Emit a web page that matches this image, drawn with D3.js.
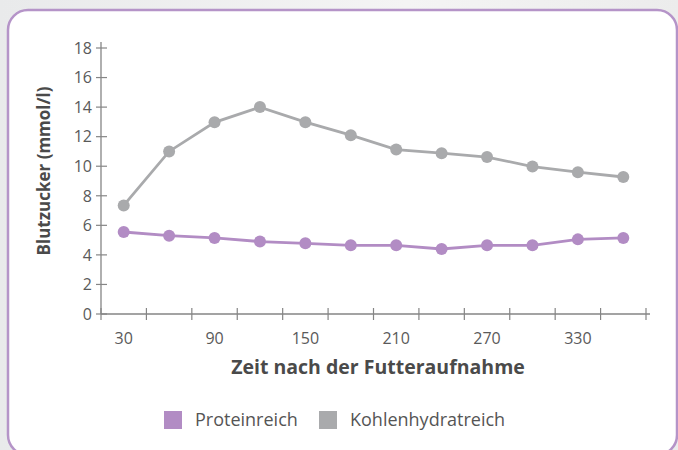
<!DOCTYPE html>
<html>
<head>
<meta charset="utf-8">
<script src="https://cdn.jsdelivr.net/npm/d3@7"></script>
<style>
  body { margin: 0; background: linear-gradient(90deg, #e9eaeb, #f4f4f4 60%, #ececec); }
  svg { display: block; }
</style>
</head>
<body>
<div id="chart"></div>
<script>
// data
var minutes = [30, 60, 90, 120, 150, 180, 210, 240, 270, 300, 330, 360];
var protein = [5.55, 5.3, 5.15, 4.9, 4.78, 4.65, 4.65, 4.4, 4.65, 4.65, 5.05, 5.15];
var carbs = [7.35, 11.0, 12.97, 14.0, 12.98, 12.1, 11.13, 10.88, 10.62, 9.98, 9.6, 9.27];
var yTicks = [0, 2, 4, 6, 8, 10, 12, 14, 16, 18];
var seriesNames = ["Proteinreich", "Kohlenhydratreich"];
var colors = ["#b28cc4", "#a9aaac"];

var W = 678, H = 450;
var svg = d3.select("#chart").append("svg")
	.attr("width", W)
	.attr("height", H);

// the card
svg.append("rect")
	.attr("x", 8).attr("y", 10)
	.attr("width", 669).attr("height", 445)
	.attr("rx", 20).attr("ry", 20)
	.attr("fill", "#fff")
	.attr("stroke", "#b594c8")
	.attr("stroke-width", 2.5);

var pLeft = 101, pRight = 646, pTop = 48, pBottom = 314;
var font = "'Open Sans', 'Noto Sans', sans-serif";

var x = d3.scaleBand().domain(minutes).range([pLeft, pRight]);
var y = d3.scaleLinear().domain([0, 18]).range([pBottom, pTop]);

var axisCol = "#858585";

// y axis
var gy = svg.append("g").attr("transform", "translate(" + pLeft + ",0)");
gy.append("line").attr("y1", y(0)).attr("y2", y(18) - 6).attr("stroke", axisCol).attr("stroke-width", 1.3);
gy.selectAll(".yt").data(yTicks).enter().append("line")
	.attr("x1", -5).attr("x2", 6)
	.attr("y1", function(d) { return y(d); })
	.attr("y2", function(d) { return y(d); })
	.attr("stroke", axisCol).attr("stroke-width", 1.2);
gy.selectAll(".yl").data(yTicks).enter().append("text")
	.attr("x", -9)
	.attr("y", function(d) { return y(d); })
	.attr("dy", "0.36em")
	.attr("text-anchor", "end")
	.attr("font-family", font)
	.attr("font-size", 16)
	.attr("fill", "#5a5a5a")
	.text(function(d) { return d; });

// x axis, ticks on band edges
var edges = minutes.map(function(m) { return x(m); }).concat([pRight]);
var gx = svg.append("g");
gx.append("line").attr("x1", pLeft).attr("x2", pRight + 4)
	.attr("y1", pBottom).attr("y2", pBottom)
	.attr("stroke", axisCol).attr("stroke-width", 1.3);
gx.selectAll(".xt").data(edges).enter().append("line")
	.attr("x1", function(d) { return d; }).attr("x2", function(d) { return d; })
	.attr("y1", pBottom - 6).attr("y2", pBottom + 6)
	.attr("stroke", axisCol).attr("stroke-width", 1.2);
gx.selectAll(".xl").data(minutes.filter(function(m, i) { return i % 2 == 0; })).enter().append("text")
	.attr("x", function(d) { return x(d) + x.bandwidth() / 2; })
	.attr("y", pBottom + 30)
	.attr("text-anchor", "middle")
	.attr("font-family", font)
	.attr("font-size", 16)
	.attr("fill", "#5a5a5a")
	.text(function(d) { return d; });

// axis titles
svg.append("text")
	.attr("x", 378)
	.attr("y", 374)
	.attr("text-anchor", "middle")
	.attr("font-family", font)
	.attr("font-size", 19.5)
	.attr("font-weight", "bold")
	.attr("fill", "#4a4a4a")
	.text("Zeit nach der Futteraufnahme");

svg.append("text")
	.attr("transform", "translate(50,171) rotate(-90)")
	.attr("text-anchor", "middle")
	.attr("font-family", font)
	.attr("font-size", 17)
	.attr("font-weight", "bold")
	.attr("fill", "#4a4a4a")
	.text("Blutzucker (mmol/l)");

// series lines and dots
var series = [carbs, protein];
var cols = [colors[1], colors[0]];
var line = d3.line()
	.x(function(d, i) { return x(minutes[i]) + x.bandwidth() / 2; })
	.y(function(d) { return y(d); });

series.forEach(function(s, k) {
	svg.append("path")
		.datum(s)
		.attr("d", line)
		.attr("fill", "none")
		.attr("stroke", cols[k])
		.attr("stroke-width", 2.8);
	svg.selectAll(".dot" + k).data(s).enter().append("circle")
		.attr("cx", function(d, i) { return x(minutes[i]) + x.bandwidth() / 2; })
		.attr("cy", function(d) { return y(d); })
		.attr("r", 6)
		.attr("fill", cols[k]);
});

// legend
var legX = [164, 319];
var lg = svg.selectAll(".leg").data(seriesNames).enter().append("g")
	.attr("transform", function(d, i) { return "translate(" + legX[i] + ",411)"; });
lg.append("rect")
	.attr("width", 18).attr("height", 18)
	.attr("fill", function(d, i) { return colors[i]; });
lg.append("text")
	.attr("x", 31).attr("y", 15)
	.attr("font-family", font)
	.attr("font-size", 18)
	.attr("fill", "#555")
	.text(function(d) { return d; });
</script>
</body>
</html>
